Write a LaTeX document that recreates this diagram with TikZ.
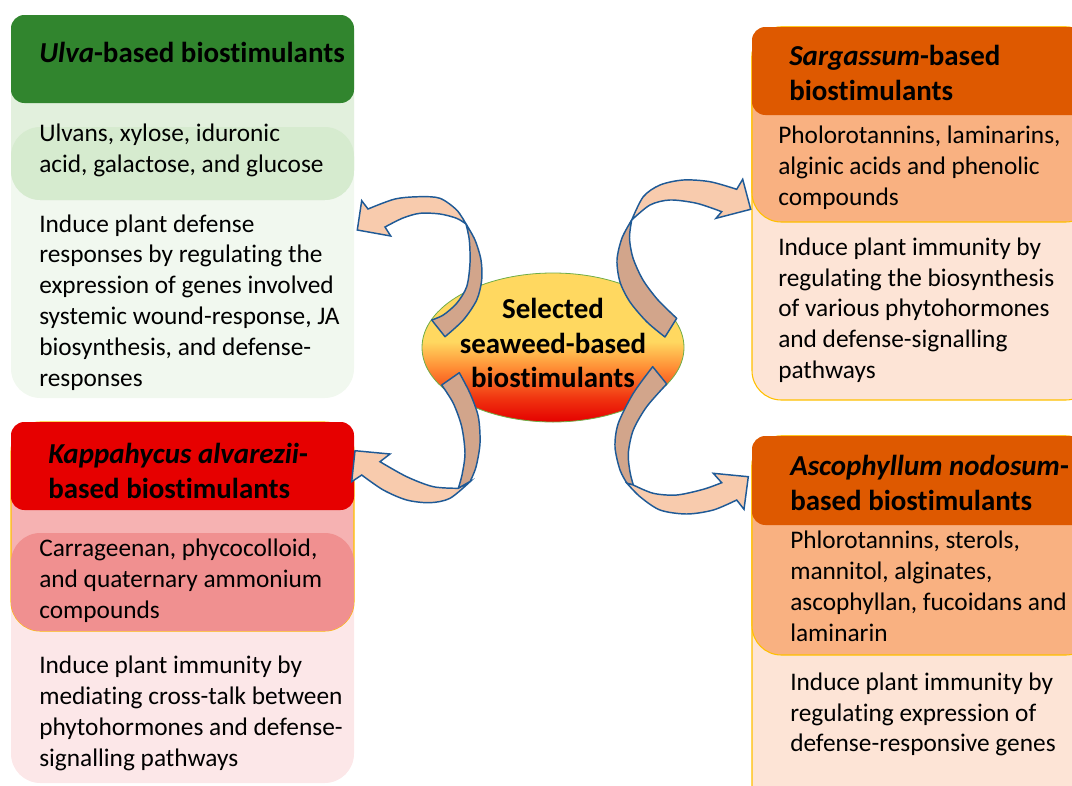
\documentclass[tikz,border=0pt]{standalone}
\usepackage{fontspec}
\setmainfont{Carlito}[Ligatures=NoCommon]
\usetikzlibrary{shapes.geometric}
\definecolor{ulvaH}{RGB}{49,133,46}
\definecolor{ulvaM}{RGB}{226,240,221}
\definecolor{ulvaMM}{RGB}{214,235,207}
\definecolor{ulvaL}{RGB}{241,248,239}
\definecolor{kapH}{RGB}{230,0,0}
\definecolor{kapM}{RGB}{246,178,178}
\definecolor{kapMM}{RGB}{240,144,144}
\definecolor{kapL}{RGB}{252,231,232}
\definecolor{sarH}{RGB}{222,89,0}
\definecolor{sarM}{RGB}{249,177,129}
\definecolor{sarL}{RGB}{253,228,214}
\definecolor{boxline}{RGB}{255,192,0}
\definecolor{peach}{RGB}{248,203,173}
\definecolor{tanc}{RGB}{210,165,139}
\definecolor{arrline}{RGB}{31,90,150}
\definecolor{ellR}{RGB}{228,0,0}
\definecolor{ellRO}{RGB}{240,52,16}
\definecolor{ellO}{RGB}{255,140,52}
\definecolor{ellY}{RGB}{255,216,96}
\definecolor{ellline}{RGB}{112,173,71}
\pgfdeclareverticalshading{ellshade}{100bp}{color(0bp)=(ellR); color(25bp)=(ellR); color(33bp)=(ellRO); color(43bp)=(ellO); color(52bp)=(ellY); color(100bp)=(ellY)}
\tikzset{
  body/.style={anchor=north west, inner sep=0pt, align=left, font=\fontsize{19}{23.1}\selectfont},
  head/.style={anchor=north west, inner sep=0pt, align=left, font=\fontsize{21.7}{26.3}\selectfont\bfseries},
  arrback/.style={fill=tanc, draw=arrline, line width=1.1pt, line join=round},
  arrfront/.style={fill=peach, draw=arrline, line width=1.1pt, line join=miter},
  outerbox/.style={rounded corners=22pt},
  headbox/.style={rounded corners=10pt},
}
\begin{document}
\begin{tikzpicture}[x=0.75pt,y=-0.75pt]
\useasboundingbox (0,0) rectangle (1072,786);
\clip (0,0) rectangle (1072,786);
% ---- Ulva box
\fill[ulvaL, outerbox] (11,15) rectangle (354,398);
\fill[ulvaM, outerbox] (11,15) rectangle (354,200);
\fill[ulvaMM, outerbox] (11,127) rectangle (354,200);
\fill[ulvaH, headbox] (11,15) rectangle (354,103);
% ---- Kappahycus box
\fill[kapL, outerbox] (11,422) rectangle (354,783);
\filldraw[fill=kapM, draw=boxline, line width=0.8pt, outerbox] (11,422) rectangle (354,631);
\fill[kapMM, outerbox] (11,533) rectangle (354,631);
\fill[kapH, headbox] (11,422) rectangle (354,510);
% ---- Sargassum box
\filldraw[fill=sarL, draw=boxline, line width=0.8pt, outerbox] (752,27) rectangle (1095,400);
\filldraw[fill=sarM, draw=boxline, line width=0.8pt, outerbox] (752,27) rectangle (1095,222);
\fill[sarH, headbox] (752,27) rectangle (1095,115);
% ---- Ascophyllum box
\filldraw[fill=sarL, draw=boxline, line width=0.8pt, outerbox] (752,436) rectangle (1095,815);
\filldraw[fill=sarM, draw=boxline, line width=0.8pt, outerbox] (752,436) rectangle (1095,655);
\fill[sarH, headbox] (752,436) rectangle (1095,525);
% ---- texts
\node[head] (ulvah) at (39,38) {\strut\textit{Ulva}-based biostimulants};
\node[body] (ulvam) at (39,120) {\strut Ulvans, xylose, iduronic\\acid, galactose, and glucose};
\node[body] (ulvab) at (39,210.3) {\strut Induce plant defense\\responses by regulating the\\expression of genes involved\\systemic wound-response, JA\\biosynthesis, and defense-\\responses};
\node[head] (kaph) at (48,438.8) {\strut\textit{Kappahycus alvarezii}-\\based biostimulants};
\node[body] (kapm) at (39,535) {\strut Carrageenan, phycocolloid,\\and quaternary ammonium\\compounds};
\node[body] (kapb) at (39,651.8) {\strut Induce plant immunity by\\mediating cross-talk between\\phytohormones and defense-\\signalling pathways};
\node[head] (sarh) at (789,40.5) {\strut\textit{Sargassum}-based\\biostimulants};
\node[body] (sarm) at (778,121.8) {\strut Pholorotannins, laminarins,\\alginic acids and phenolic\\compounds};
\node[body] (sarb) at (778,233.4) {\strut Induce plant immunity by\\regulating the biosynthesis\\of various phytohormones\\and defense-signalling\\pathways};
\node[head] (ascoh) at (790,450.5) {\strut\textit{Ascophyllum nodosum}-\\based biostimulants};
\node[body] (ascom) at (790,526.8) {\strut Phlorotannins, sterols,\\mannitol, alginates,\\ascophyllan, fucoidans and\\laminarin};
\node[body] (ascob) at (790,668.4) {\strut Induce plant immunity by\\regulating expression of\\defense-responsive genes};
% ---- centre ellipse
\node[ellipse, minimum width=196.5pt, minimum height=111.75pt, inner sep=0pt, shading=ellshade, draw=ellline, line width=0.6pt] (centre) at (553,347.5) {};
\node[align=center, inner sep=0pt, font=\fontsize{21.7}{26.1}\selectfont\bfseries] (centretext) at (553,343) {Selected\\seaweed-based\\biostimulants};
% ---- curved arrows
% top-left
\draw[arrback] (445,336.7) -- plot[smooth] coordinates {(445,336.7) (463.3,320) (476.7,300) (481.7,280) (481,260) (475,240) (466,224)} -- plot[smooth] coordinates {(466,224) (469.3,240) (470,263) (466.7,286.7) (456.7,303.3) (443.3,315) (431.7,320)} -- cycle;
\draw[arrfront] (466,224) -- plot[smooth] coordinates {(466,224) (456.7,210) (440,198.3) (420,196.7) (395,199) (368,209)} -- (361.7,200.7) -- (357.3,230) -- (390.7,236) -- (385,227) -- plot[smooth] coordinates {(385,227) (403,218) (420,213.3) (440,214) (456.7,218.3) (466,224)} -- cycle;
% top-right
\draw[arrback] (631.7,220) -- plot[smooth] coordinates {(631.7,220) (622,238) (617,260) (620,282) (630,302) (647,322) (665,337)} -- (676.7,318.3) -- plot[smooth] coordinates {(676.7,318.3) (658,300) (643,280) (633,258) (629.5,238) (631.7,220)} -- cycle;
\draw[arrfront] (631.7,220) -- plot[smooth] coordinates {(631.7,220) (643.3,196.7) (660,185) (683.3,180) (710,181.7) (736.7,189.3)} -- (742.7,179.3) -- (750.7,209.3) -- (716,218.3) -- (721.7,211.7) -- plot[smooth] coordinates {(721.7,211.7) (696.7,203.3) (670,200) (650,205) (631.7,220)} -- cycle;
% bottom-left
\draw[arrback] (459.3,372.7) -- plot[smooth] coordinates {(459.3,372.7) (470,393.3) (478.3,416.7) (480,443.3) (476,467) (470,481.7)} -- (458.3,488.3) -- plot[smooth] coordinates {(458.3,488.3) (462,475) (465,453.3) (461.7,426.7) (453.3,403.3) (441.7,385)} -- cycle;
\draw[arrfront] (458.3,488.3) -- (470,481.7) -- plot[smooth] coordinates {(470,481.7) (450,498.3) (430,502.7) (406.7,500) (383.3,490) (361.7,475)} -- (351.7,481.7) -- (355,450.7) -- (390,454) -- (380,461.7) -- plot[smooth] coordinates {(380,461.7) (406.7,476.7) (433.3,486.7) (458.3,488.3)} -- cycle;
% bottom-right
\draw[arrback] (652.7,366.7) -- plot[smooth] coordinates {(652.7,366.7) (633.3,393.3) (618.3,423.3) (615,446.7) (620,470) (627,483.3)} -- (633.3,485) -- plot[smooth] coordinates {(633.3,485) (630,472) (628.3,453.3) (633.3,430) (646.7,406.7) (666.7,384)} -- cycle;
\draw[arrfront] (627,483.3) -- plot[smooth] coordinates {(627,483.3) (640,496.7) (660,510) (686.7,514) (713.3,510) (736.7,500)} -- (744,509.3) -- (748.3,476.7) -- (713.3,473.3) -- (721.7,482.7) -- plot[smooth] coordinates {(721.7,482.7) (703.3,489.3) (676.7,495) (653.3,493.3) (633.3,485)} -- cycle;
\end{tikzpicture}
\end{document}
